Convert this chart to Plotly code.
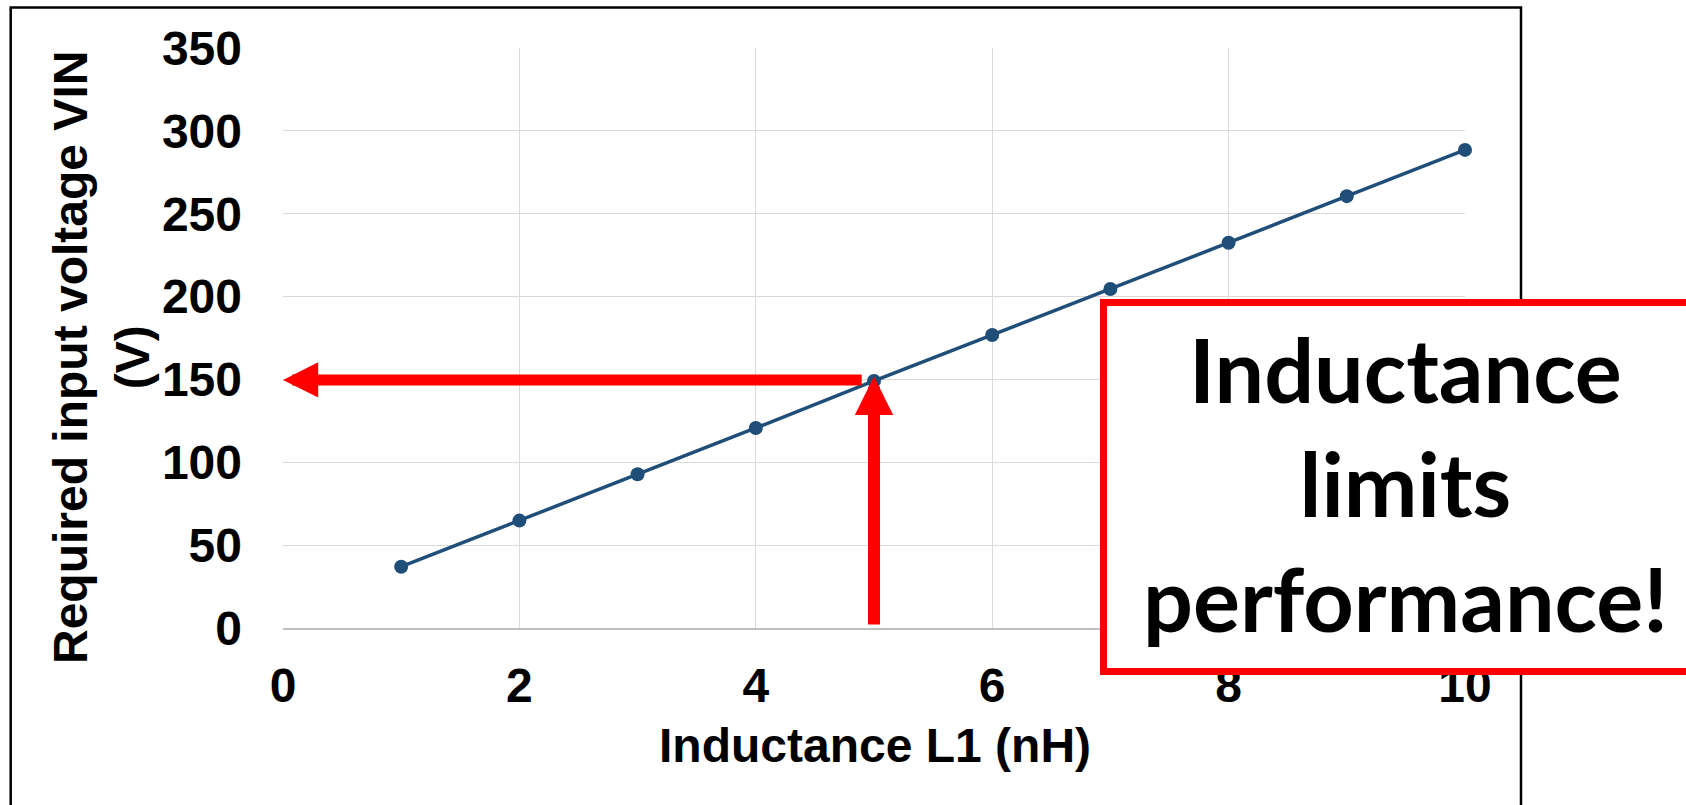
import plotly.graph_objects as go

# ---- data ----
inductance_nH = [1, 2, 3, 4, 5, 6, 7, 8, 9, 10]
required_vin_V = [37.0, 64.8, 92.8, 120.7, 149.1, 176.8, 204.6, 232.5, 260.6, 288.5]
x_ticks = [0, 2, 4, 6, 8, 10]
y_ticks = [0, 50, 100, 150, 200, 250, 300, 350]
x_title = "Inductance L1 (nH)"
y_title = "Required input voltage VIN<br>(V)"
callout_text = "Inductance<br>limits<br>performance!"
marked_L = 5
marked_V = 150

W, H = 1686, 805
L_M, R_M, T_M, B_M = 283, 221, 48, 177
PW = W - L_M - R_M
PH = H - T_M - B_M


def px_x(px):
    return (px - L_M) / PW


def px_y(py):
    return (H - B_M - py) / PH


tick_font = dict(family="Liberation Sans, Arial, sans-serif", size=48, color="black", weight="bold")

fig = go.Figure()
fig.add_trace(go.Scatter(
    x=inductance_nH, y=required_vin_V, mode="lines+markers",
    line=dict(color="#1F4E79", width=3.5),
    marker=dict(color="#1F4E79", size=14),
    showlegend=False, cliponaxis=False,
))

fig.update_layout(
    width=W, height=H,
    margin=dict(l=L_M, r=R_M, t=T_M, b=B_M, autoexpand=False),
    paper_bgcolor="white", plot_bgcolor="white",
    xaxis=dict(range=[0, 10], tickvals=x_ticks, ticktext=[str(v) for v in x_ticks],
               showgrid=True, gridcolor="#D9D9D9", gridwidth=1.3,
               showline=True, linecolor="#BFBFBF", linewidth=2,
               zeroline=False, ticks="", tickfont=tick_font, ticklabelstandoff=14),
    yaxis=dict(range=[0, 350], tickvals=y_ticks, ticktext=[str(v) for v in y_ticks],
               showgrid=True, gridcolor="#D9D9D9", gridwidth=1.3,
               showline=False, zeroline=False, ticks="", tickfont=tick_font,
               ticklabelstandoff=40),
)

shapes = []
# outer black frame (bottom edge runs off the page)
shapes.append(dict(type="rect", xref="paper", yref="paper",
                   x0=px_x(10.7), x1=px_x(1521), y0=px_y(840), y1=px_y(7.5),
                   line=dict(color="black", width=2.5), fillcolor="rgba(0,0,0,0)", layer="above"))
fig.update_layout(shapes=shapes)

annotations = []
# horizontal arrow: from the marked point back to the y axis
annotations.append(dict(x=0, y=marked_V - 0.3, ax=4.9, ay=marked_V - 0.3,
                        xref="x", yref="y", axref="x", ayref="y",
                        text="", showarrow=True, arrowhead=2, arrowsize=0.64,
                        arrowwidth=11, arrowcolor="#FF0000", standoff=0,
                        font=dict(size=1), borderpad=0))
# vertical arrow: from the x axis up to the marked point
annotations.append(dict(x=marked_L, y=151.7, ax=marked_L, ay=1.8,
                        xref="x", yref="y", axref="x", ayref="y",
                        text="", showarrow=True, arrowhead=2, arrowsize=0.64,
                        arrowwidth=12, arrowcolor="#FF0000", standoff=0,
                        font=dict(size=1), borderpad=0))
# axis titles
annotations.append(dict(x=px_x(101), y=px_y(358), xref="paper", yref="paper",
                        text=y_title, textangle=-90, showarrow=False,
                        xanchor="center", yanchor="middle", align="center",
                        font=dict(family="Liberation Sans, Arial, sans-serif", size=48,
                                  color="black", weight="bold")))
annotations.append(dict(x=px_x(875), y=px_y(745), xref="paper", yref="paper",
                        text=x_title, showarrow=False,
                        xanchor="center", yanchor="middle",
                        font=dict(family="Liberation Sans, Arial, sans-serif", size=48,
                                  color="black", weight="bold")))
# red callout box (white fill, drawn above the tick labels, runs off the right edge)
annotations.append(dict(x=px_x(1100), y=px_y(299), xref="paper", yref="paper",
                        xanchor="left", yanchor="top", text=" ", showarrow=False,
                        width=596, height=362, borderpad=0, borderwidth=7,
                        bordercolor="#FF0000", bgcolor="white", font=dict(size=1)))
# callout text
annotations.append(dict(x=px_x(1405), y=px_y(483), xref="paper", yref="paper",
                        text=callout_text, showarrow=False,
                        xanchor="center", yanchor="middle", align="center",
                        font=dict(family="Lato, Carlito, Calibri, sans-serif", size=88,
                                  color="black", weight="bold")))
fig.update_layout(annotations=annotations)

fig.write_html("out.html")
